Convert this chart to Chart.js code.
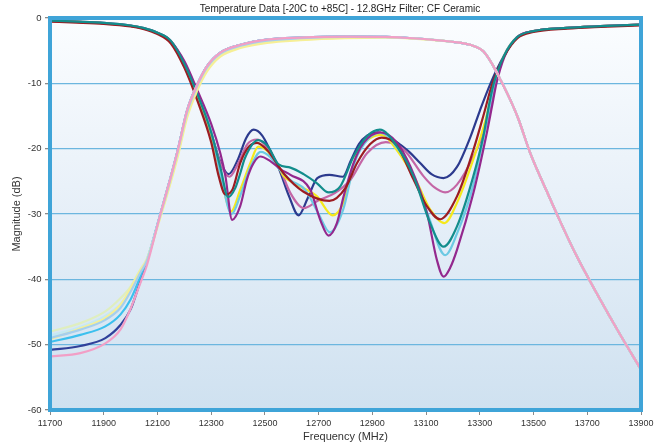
<!DOCTYPE html>
<html><head><meta charset="utf-8">
<script src="https://cdn.jsdelivr.net/npm/chart.js@4.4.0/dist/chart.umd.min.js"></script>
<style>html,body{margin:0;padding:0;background:#fff;}canvas{display:block;}</style>
</head><body>
<canvas id="c" width="667" height="446"></canvas>
<script>
const chartTitle = 'Temperature Data [-20C to +85C] - 12.8GHz Filter; CF Ceramic';
const xTitle = 'Frequency (MHz)';
const yTitle = 'Magnitude (dB)';
const xTicks = [11700, 11900, 12100, 12300, 12500, 12700, 12900, 13100, 13300, 13500, 13700, 13900];
const yTicks = [0, -10, -20, -30, -40, -50, -60];

// ---- S11 (return loss) curves, one per temperature ----
const s11NavyF = [11700,11800,11900,12000,12050,12100,12150,12200,12250,12300,12330,12365,12400,12430,12458,12490,12520,12550,12590,12625,12660,12695,12740,12790,12820,12850,12880,12920,12970,13004,13040,13078,13120,13165,13215,13264,13300,13340,13390,13440,13500,13625,13750,13900];
const s11NavyDb = [-0.4,-0.55,-0.75,-1.15,-1.55,-2.25,-3.5,-7.0,-12.0,-17.6,-21.6,-23.9,-21.6,-18.4,-17.1,-18.0,-20.3,-22.8,-27.3,-30.2,-27.5,-24.5,-24.0,-24.3,-21.8,-19.3,-18.0,-17.5,-18.4,-19.4,-20.6,-22.2,-23.9,-24.5,-22.8,-18.3,-14.2,-10.0,-5.8,-2.9,-2.0,-1.5,-1.25,-1.0];

const s11MauveF = [11700,11800,11900,12000,12050,12100,12150,12200,12250,12300,12335,12368,12400,12435,12471,12500,12530,12555,12595,12644,12700,12760,12818,12880,12950,13016,13090,13130,13171,13215,13276,13326,13357,13390,13440,13500,13625,13750,13900];
const s11MauveDb = [-0.45,-0.6,-0.8,-1.2,-1.6,-2.3,-3.6,-7.0,-12.2,-17.8,-22.3,-24.3,-22.3,-19.3,-18.6,-19.4,-21.3,-23.0,-26.8,-29.1,-27.9,-26.8,-24.8,-20.7,-19.0,-20.1,-24.2,-25.9,-26.7,-25.5,-21.2,-16.1,-10.0,-5.8,-2.9,-2.0,-1.5,-1.25,-1.0];

const s11YellowF = [11700,11800,11900,12000,12050,12100,12150,12200,12250,12300,12340,12374,12408,12446,12475,12510,12551,12570,12619,12694,12752,12793,12843,12892,12935,12991,13066,13115,13168,13215,13276,13320,13354,13390,13440,13500,13625,13750,13900];
const s11YellowDb = [-0.45,-0.6,-0.8,-1.2,-1.6,-2.3,-3.6,-6.9,-11.9,-17.8,-25.0,-29.6,-26.3,-22.2,-19.7,-20.4,-22.8,-24.2,-25.5,-27.3,-30.2,-28.2,-20.7,-18.4,-17.9,-20.2,-25.2,-29.3,-31.4,-28.3,-21.6,-15.8,-10.0,-5.8,-2.9,-2.0,-1.5,-1.25,-1.0];

const s11CyanF = [11700,11800,11900,12000,12050,12100,12150,12200,12250,12300,12340,12376,12408,12446,12485,12520,12551,12595,12650,12700,12742,12790,12835,12885,12930,12991,13060,13110,13171,13215,13276,13320,13355,13390,13440,13500,13625,13750,13900];
const s11CyanDb = [-0.45,-0.6,-0.8,-1.2,-1.6,-2.3,-3.6,-6.8,-11.7,-17.4,-25.0,-30.0,-27.2,-22.8,-20.5,-21.3,-23.0,-24.8,-26.3,-30.0,-32.8,-29.5,-22.0,-18.5,-17.6,-19.8,-24.8,-30.5,-36.3,-33.0,-25.5,-17.0,-10.0,-5.8,-2.9,-2.0,-1.5,-1.25,-1.0];

const s11PurpleF = [11700,11800,11900,12000,12050,12100,12150,12200,12250,12300,12334,12353,12378,12408,12433,12458,12483,12520,12560,12595,12669,12706,12737,12768,12793,12830,12867,12929,12990,13041,13103,13140,13165,13190,13215,13276,13326,13345,13362,13392,13440,13500,13625,13750,13900];
const s11PurpleDb = [-0.45,-0.6,-0.8,-1.2,-1.6,-2.3,-3.6,-6.6,-11.2,-16.2,-20.7,-24.2,-30.9,-28.8,-24.7,-22.2,-21.2,-21.9,-23.2,-24.0,-26.3,-30.9,-33.3,-31.4,-27.3,-22.2,-19.1,-17.5,-19.0,-22.7,-29.8,-37.0,-39.6,-38.2,-35.5,-26.8,-17.6,-13.6,-10.0,-5.9,-2.9,-2.0,-1.5,-1.25,-1.0];

const s11MaroonF = [11700,11800,11900,12000,12050,12100,12150,12200,12250,12300,12328,12353,12380,12408,12440,12471,12510,12551,12570,12644,12740,12800,12843,12892,12935,12991,13053,13103,13152,13215,13276,13313,13347,13390,13440,13500,13625,13750,13900];
const s11MaroonDb = [-0.55,-0.7,-0.9,-1.3,-1.7,-2.45,-3.9,-7.6,-12.8,-19.0,-24.2,-27.0,-26.2,-22.2,-19.7,-19.1,-20.3,-22.7,-23.8,-26.6,-28.0,-26.0,-22.2,-19.3,-18.3,-19.5,-24.7,-28.8,-30.8,-27.3,-20.2,-15.0,-10.0,-5.9,-3.1,-2.15,-1.62,-1.35,-1.12];

const s11TealF = [11700,11800,11900,12000,12050,12100,12150,12200,12250,12300,12335,12363,12390,12408,12425,12475,12510,12551,12595,12644,12694,12737,12780,12830,12880,12928,12991,13053,13115,13165,13215,13276,13313,13338,13352,13390,13440,13500,13625,13750,13900];
const s11TealDb = [-0.4,-0.55,-0.75,-1.15,-1.55,-2.25,-3.5,-7.0,-11.8,-17.5,-23.0,-27.4,-26.0,-23.8,-21.5,-18.7,-19.6,-22.4,-22.9,-23.9,-25.3,-26.7,-25.8,-21.2,-18.1,-17.1,-19.6,-24.2,-31.4,-35.0,-31.9,-24.2,-18.1,-12.5,-10.0,-5.8,-2.9,-2.0,-1.5,-1.25,-1.0];

// ---- S21 (insertion loss) curves ----
const s21LeftF = [11700, 11813, 11906, 11962, 12000, 12036, 12061];
const s21BlueLeft = [-50.8,-50.2,-49.0,-47.0,-44.6,-40.3,-37.3];
const s21SkyLeft = [-49.6,-48.5,-47.2,-45.4,-43.1,-39.6,-37.0];
const s21TurqLeft = [-48.6,-47.3,-45.6,-43.8,-41.6,-38.8,-36.9];
const s21GreenLeft = [-48.0,-46.7,-44.9,-42.9,-41.1,-38.5,-36.8];
const s21LtYellowLeft = [-49.2,-47.5,-45.9,-43.9,-41.4,-38.7,-37.0];
const s21PaleBlueLeft = [-49.0,-47.7,-46.2,-44.4,-41.9,-39.0,-37.1];
const s21RoseLeft = [-51.8,-51.3,-49.8,-47.7,-44.5,-40.6,-37.8];

const s21MidF = [12111, 12145, 12177, 12210, 12247, 12284, 12334, 12409, 12508, 12632, 12800, 12950, 13050];
const s21StdMid = [-30.0,-25.0,-20.0,-14.2,-10.3,-7.4,-5.3,-4.1,-3.3,-3.0,-2.85,-2.9,-3.1];
const s21PaleBlueMid = [-30.1,-25.2,-20.2,-14.5,-10.5,-7.6,-5.45,-4.25,-3.45,-3.1,-2.9,-2.92,-3.1];
const s21GreenMid = [-30.3,-25.5,-20.6,-14.9,-10.9,-7.9,-5.7,-4.45,-3.65,-3.3,-3.0,-2.95,-3.12];
const s21LtYellowMid = [-30.5,-25.8,-21.0,-15.3,-11.2,-8.2,-5.9,-4.6,-3.8,-3.4,-3.1,-3.0,-3.15];

const s21RightF = [13189, 13264, 13313, 13351, 13376, 13413, 13444, 13487, 13550, 13600, 13660, 13748, 13820, 13900];
const s21Right = [-3.6,-4.1,-5.1,-7.4,-9.4,-12.5,-15.5,-20.6,-26.6,-31.2,-36.4,-43.1,-48.3,-53.8];

const family = '"Liberation Sans", Arial, sans-serif';

function pts(fs, vs) { return fs.map((f, i) => ({ x: f, y: vs[i] })); }
function s21(left, mid) {
  return pts(s21LeftF, left).concat(pts(s21MidF, mid), pts(s21RightF, s21Right));
}

const series = [
  { c: '#2c3a8e', d: pts(s11NavyF, s11NavyDb) },
  { c: '#c466a6', d: pts(s11MauveF, s11MauveDb) },
  { c: '#f5e81c', d: pts(s11YellowF, s11YellowDb) },
  { c: '#6cc9e3', d: pts(s11CyanF, s11CyanDb) },
  { c: '#93288e', d: pts(s11PurpleF, s11PurpleDb) },
  { c: '#9c1c22', d: pts(s11MaroonF, s11MaroonDb) },
  { c: '#138d8c', d: pts(s11TealF, s11TealDb) },
  { c: '#30409a', d: s21(s21BlueLeft, s21StdMid) },
  { c: '#3cc0ee', d: s21(s21SkyLeft, s21StdMid) },
  { c: '#c5e9f2', d: s21(s21TurqLeft, s21StdMid) },
  { c: '#dfeebf', d: s21(s21GreenLeft, s21GreenMid) },
  { c: '#f6ef96', d: s21(s21LtYellowLeft, s21LtYellowMid) },
  { c: '#a6cfec', d: s21(s21PaleBlueLeft, s21PaleBlueMid) },
  { c: '#f29fc6', d: s21(s21RoseLeft, s21StdMid) }
];

const datasets = series.map((s, i) => ({
  data: s.d,
  borderColor: s.c,
  borderWidth: 2.2,
  pointRadius: 0,
  fill: false,
  cubicInterpolationMode: 'monotone',
  order: series.length - i
}));

const bgPlugin = {
  id: 'plotBg',
  beforeDraw(chart) {
    const { ctx, chartArea: a } = chart;
    ctx.save();
    ctx.fillStyle = '#ffffff';
    ctx.fillRect(0, 0, chart.width, chart.height);
    const g = ctx.createLinearGradient(0, a.top, 0, a.bottom);
    g.addColorStop(0, '#fbfdff');
    g.addColorStop(0.5, '#e6eff8');
    g.addColorStop(1, '#cfe1f0');
    ctx.fillStyle = g;
    ctx.fillRect(a.left, a.top, a.right - a.left, a.bottom - a.top);
    ctx.restore();
  }
};
const borderPlugin = {
  id: 'plotBorder',
  afterDatasetsDraw(chart) {
    const { ctx, chartArea: a } = chart;
    ctx.save();
    ctx.strokeStyle = '#3fa4d8';
    ctx.lineWidth = 4;
    ctx.strokeRect(a.left, a.top, a.right - a.left, a.bottom - a.top);
    ctx.restore();
  }
};
const titlePlugin = {
  id: 'titleText',
  afterDraw(chart) {
    const ctx = chart.ctx;
    ctx.save();
    ctx.font = '10px ' + family;
    ctx.fillStyle = '#222';
    ctx.textAlign = 'center';
    ctx.textBaseline = 'middle';
    ctx.fillText(chartTitle, 340, 9);
    ctx.restore();
  }
};

new Chart(document.getElementById('c'), {
  type: 'line',
  data: { datasets },
  options: {
    responsive: false,
    animation: false,
    devicePixelRatio: 1,
    layout: { padding: { left: 0, right: 26, top: 18, bottom: 0 } },
    plugins: { legend: { display: false }, tooltip: { enabled: false }, title: { display: false } },
    scales: {
      x: {
        type: 'linear', min: xTicks[0], max: xTicks[xTicks.length - 1],
        afterBuildTicks(s) { s.ticks = xTicks.map(v => ({ value: v })); },
        ticks: { autoSkip: false, maxRotation: 0, color: '#333', font: { family, size: 9 }, padding: 3, callback: v => String(v) },
        grid: { drawOnChartArea: false, drawTicks: true, tickLength: 5, tickColor: '#8a8a8a', color: '#8a8a8a' },
        border: { display: false },
        title: { display: true, text: xTitle, color: '#333', font: { family, size: 11 }, padding: { top: 0, bottom: 2 } },
        afterFit(s) { s.height = 36; }
      },
      y: {
        type: 'linear', min: yTicks[yTicks.length - 1], max: yTicks[0],
        afterBuildTicks(s) { s.ticks = yTicks.slice().reverse().map(v => ({ value: v })); },
        ticks: { color: '#333', font: { family, size: 9.5 }, padding: 3.5, callback: v => String(v) },
        grid: { color: '#6cb6df', lineWidth: 1.3, tickLength: 5, tickColor: '#8a8a8a' },
        border: { display: false },
        title: { display: true, text: yTitle, color: '#333', font: { family, size: 11 }, padding: { top: 10, bottom: 0 } },
        afterFit(s) { s.width = 50; }
      }
    }
  },
  plugins: [bgPlugin, borderPlugin, titlePlugin]
});
</script>
</body></html>
